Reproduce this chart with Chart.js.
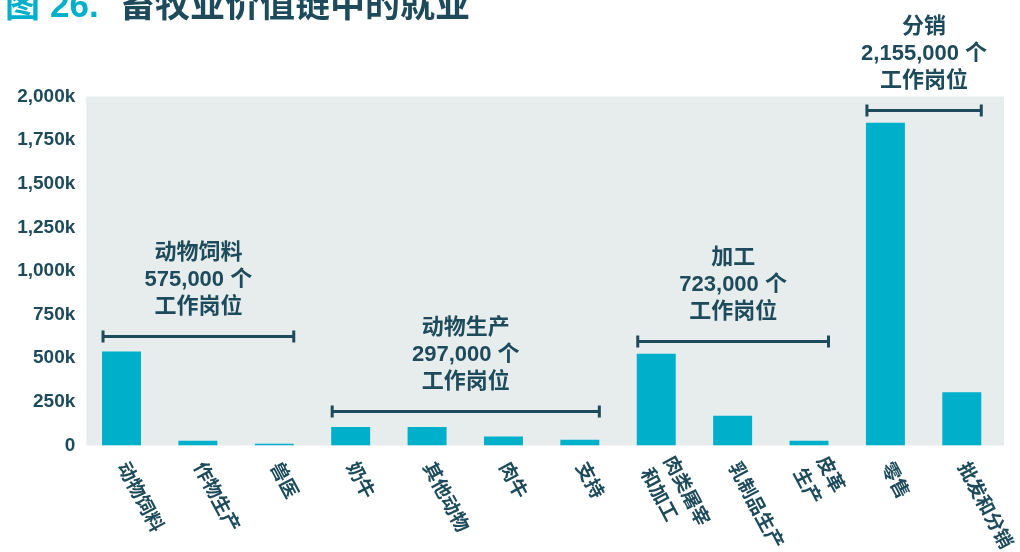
<!DOCTYPE html>
<html>
<head>
<meta charset="utf-8">
<script src="https://cdn.jsdelivr.net/npm/chart.js@4/dist/chart.umd.min.js"></script>
<style>
  html, body { margin: 0; padding: 0; background: #ffffff; }
  #wrap { position: relative; width: 1020px; height: 552px; }
</style>
</head>
<body>
<div id="wrap"><canvas id="chart" width="1020" height="552"></canvas></div>
<script>
// Value-chain segments (one bar each); multi-line names are split into lines
const categories = [
  ['动物饲料'], ['作物生产'], ['兽医'],
  ['奶牛'], ['其他动物'], ['肉牛'], ['支持'],
  ['肉类屠宰', '和加工'], ['乳制品生产'], ['皮革', '生产'],
  ['零售'], ['批发和分销']
];

// Jobs per segment
const jobs = [
  538000, 27000, 10000,
  106000, 106000, 52000, 33000,
  526000, 170000, 27000,
  1850000, 305000
];

// Segment groups: name, first and last segment index
const groupNames = ['动物饲料', '动物生产', '加工', '分销'];
const groupFirst = [0, 3, 7, 10];
const groupLast = [2, 6, 9, 11];

// Y axis tick labels, from 0 upward in steps of 250k
const yTickLabels = ['0', '250k', '500k', '750k', '1,000k', '1,250k', '1,500k', '1,750k', '2,000k'];

// Height (in jobs) at which each group's bracket sits
const bracketLevel = [627000, 198000, 600000, 1922000];

const DARK = '#1d4b5b';
const CYAN = '#00afca';
const PANEL = '#e7eced';
const LATIN_CJK = '"Liberation Sans", "Noto Sans CJK SC", sans-serif';

function groupTotal(g) {
  let s = 0;
  for (let i = groupFirst[g]; i <= groupLast[g]; i++) s += jobs[i];
  return s;
}

const decor = {
  id: 'decor',
  beforeDatasetsDraw(chart) {
    const { ctx, chartArea: a } = chart;
    ctx.save();
    ctx.fillStyle = PANEL;
    ctx.fillRect(a.left + 3, a.top, a.right - a.left + 1, a.bottom - a.top);
    ctx.restore();
  },
  afterDraw(chart) {
    const { ctx } = chart;
    const y = chart.scales.y;
    const meta = chart.getDatasetMeta(0);
    ctx.save();

    // Title
    ctx.textBaseline = 'alphabetic';
    ctx.textAlign = 'left';
    ctx.fillStyle = CYAN;
    ctx.font = 'bold 35px "Noto Sans CJK SC", sans-serif';
    ctx.fillText('图', 5, 17);
    ctx.font = 'bold 35px ' + LATIN_CJK;
    ctx.fillText('26.', 50, 17);
    ctx.fillStyle = DARK;
    ctx.font = 'bold 35px "Noto Sans CJK SC", sans-serif';
    ctx.fillText('畜牧业价值链中的就业', 120, 17);

    // Group brackets and labels
    ctx.strokeStyle = DARK;
    ctx.fillStyle = DARK;
    ctx.lineWidth = 3;
    for (let g = 0; g < groupNames.length; g++) {
      const b0 = meta.data[groupFirst[g]];
      const b1 = meta.data[groupLast[g]];
      const x0 = b0.x - b0.width / 2 + 1;
      const x1 = b1.x + b1.width / 2;
      const by = Math.round(y.getPixelForValue(bracketLevel[g])) + 0.5;
      ctx.beginPath();
      ctx.moveTo(x0, by); ctx.lineTo(x1, by);
      ctx.moveTo(x0, by - 6); ctx.lineTo(x0, by + 6);
      ctx.moveTo(x1, by - 6); ctx.lineTo(x1, by + 6);
      ctx.stroke();

      const lines = [groupNames[g], groupTotal(g).toLocaleString('en-US') + ' 个', '工作岗位'];
      const cx = (x0 + x1) / 2;
      ctx.font = 'bold 22px ' + LATIN_CJK;
      ctx.textAlign = 'center';
      ctx.textBaseline = 'middle';
      for (let i = 0; i < lines.length; i++) {
        ctx.fillText(lines[i], cx, by - 30 - (lines.length - 1 - i) * 27);
      }
    }

    // Rotated category labels under the bars
    const ang = 62 * Math.PI / 180;
    const px = -Math.sin(ang), py = Math.cos(ang);
    ctx.font = 'bold 19px ' + LATIN_CJK;
    ctx.textAlign = 'left';
    ctx.textBaseline = 'middle';
    for (let i = 0; i < categories.length; i++) {
      const lines = categories[i];
      const ax = meta.data[i].x;
      const ay = 464;
      for (let k = 0; k < lines.length; k++) {
        const off = (k - (lines.length - 1) / 2) * 26;
        ctx.save();
        ctx.translate(ax + px * off, ay + py * off);
        ctx.rotate(ang);
        ctx.fillText(lines[k], 0, 0);
        ctx.restore();
      }
    }
    ctx.restore();
  }
};

new Chart(document.getElementById('chart'), {
  type: 'bar',
  data: {
    labels: categories.map(c => c.join('')),
    datasets: [{
      data: jobs,
      backgroundColor: CYAN,
      borderWidth: 0,
      barPercentage: 0.51,
      categoryPercentage: 1.0
    }]
  },
  options: {
    responsive: false,
    animation: false,
    layout: { padding: { top: 96.5, right: 20, bottom: 106.5, left: 0 } },
    plugins: { legend: { display: false }, tooltip: { enabled: false } },
    scales: {
      x: {
        grid: { display: false, drawTicks: false },
        border: { display: false },
        ticks: { display: false }
      },
      y: {
        min: 0,
        max: 2000000,
        afterFit(scale) { scale.width = 83.3; },
        grid: { display: false, drawTicks: false },
        border: { display: false },
        ticks: {
          stepSize: 250000,
          padding: 8,
          color: DARK,
          font: { family: LATIN_CJK, size: 19, weight: 'bold' },
          callback: (v, i) => yTickLabels[i]
        }
      }
    }
  },
  plugins: [decor]
});
</script>
</body>
</html>
